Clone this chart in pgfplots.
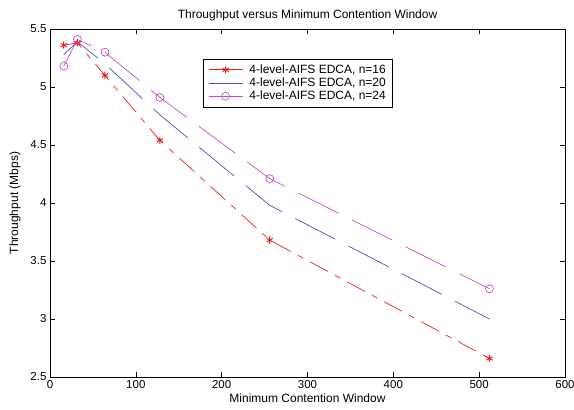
\documentclass[border=0pt]{standalone}
\usepackage{fontspec}
\setmainfont{Liberation Sans}
\usepackage{pgfplots}
\pgfplotsset{compat=1.18}
\definecolor{cred}{RGB}{240,30,30}
\definecolor{cblue}{RGB}{60,90,185}
\definecolor{cmag}{RGB}{195,80,195}
\begin{document}
\begin{tikzpicture}
\begin{axis}[
  scale only axis, width=515pt, height=348pt,
  xmin=0, xmax=600, ymin=2.5, ymax=5.5,
  xtick={0,100,...,600}, ytick={2.5,3,...,5.5},
  tick align=inside, major tick length=5pt,
  tick style={black, line width=0.6pt},
  axis line style={black, line width=0.8pt},
  font=\fontsize{11.5}{13}\selectfont,
  /pgf/number format/assume math mode=true,
  title={Throughput versus Minimum Contention Window},
  title style={at={(axis description cs:0.5,1.022)}, anchor=center, yshift=0pt, font=\fontsize{12}{14}\selectfont},
  xlabel={Minimum Contention Window},
  xlabel style={at={(axis description cs:0.5,-0.06)}, anchor=center, font=\fontsize{12}{14}\selectfont},
  ylabel={Throughput (Mbps)},
  ylabel style={at={(axis description cs:-0.068,0.5)}, anchor=center, font=\fontsize{12}{14}\selectfont},
  legend style={at={(axis description cs:0.297,0.914)}, anchor=north west,
    draw=black, line width=0.6pt, fill=white, font=\fontsize{12}{14}\selectfont,
    inner xsep=5pt, inner ysep=4pt, row sep=0pt,
    nodes={inner sep=1.5pt},
    /tikz/every odd column/.append style={column sep=5pt}},
  legend cell align=left,
  legend image code/.code={\draw[#1, solid, mark repeat=2, mark phase=2] plot coordinates {(0pt,0pt) (17pt,0pt) (34pt,0pt)};},
]
\coordinate (bl) at (rel axis cs:0,0);
\coordinate (tr) at (rel axis cs:1,1);
\addplot[cred, line width=0.7pt, dash pattern=on 20pt off 8pt on 6pt off 8pt, mark=asterisk, mark size=3.5pt, mark options={solid, line width=1pt}]
  coordinates {(16,5.36) (32,5.38) (64,5.10) (128,4.54) (256,3.68) (512,2.66)};
\addlegendentry{4-level-AIFS EDCA, n=16}
\addplot[cblue, line width=0.7pt, dash pattern=on 45pt off 15pt]
  coordinates {(16,5.28) (32,5.39) (64,5.20) (128,4.76) (256,3.98) (512,3.00)};
\addlegendentry{4-level-AIFS EDCA, n=20}
\addplot[cmag, line width=0.7pt, dash pattern=on 45pt off 15pt, mark=o, mark size=4pt, mark options={solid, line width=0.7pt}]
  coordinates {(16,5.18) (32,5.41) (64,5.30) (128,4.91) (256,4.21) (512,3.26)};
\addlegendentry{4-level-AIFS EDCA, n=24}
\end{axis}
\pgfresetboundingbox
\path ([xshift=-50pt,yshift=-32pt]bl) rectangle ([xshift=9pt,yshift=29pt]tr);
\end{tikzpicture}
\end{document}
